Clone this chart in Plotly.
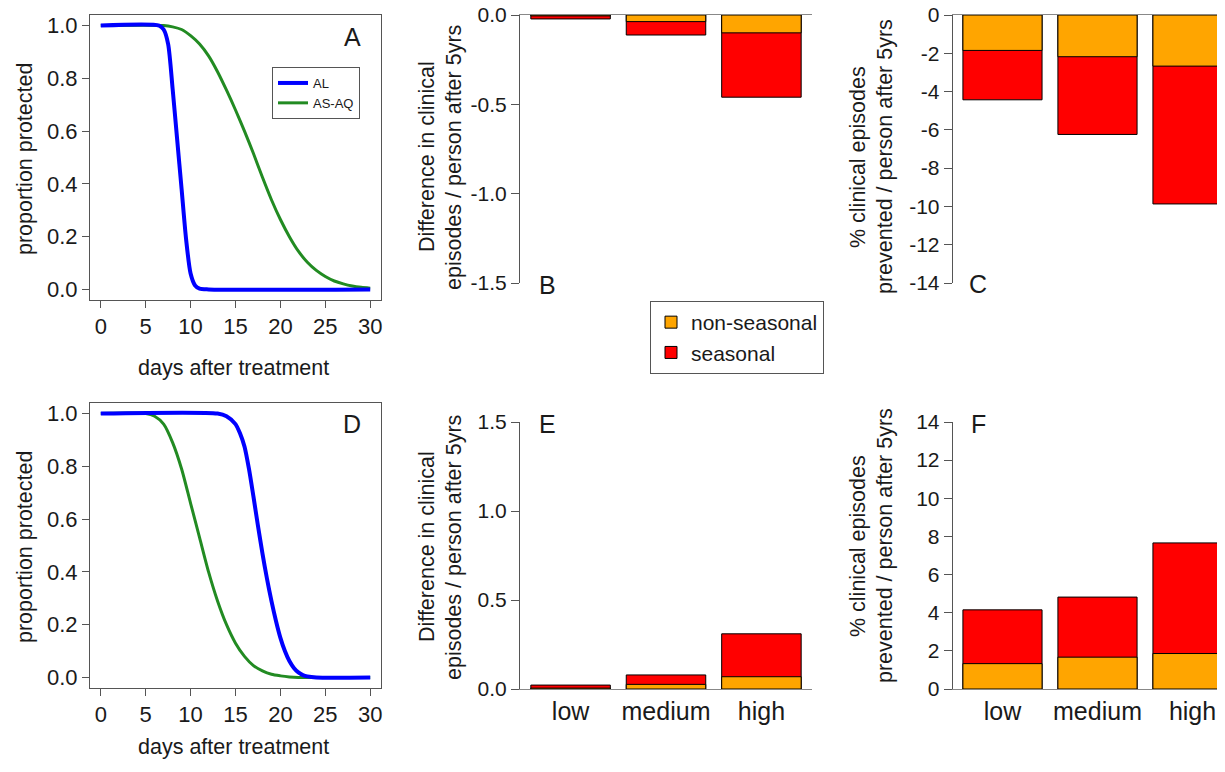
import plotly.graph_objects as go

# page offset (browser body margin) and figure size
OFF = 8
W, H = 1225 - OFF, 772 - OFF

# ---------------- data ----------------
days_AL_A = [0, 6.5, 7, 7.5, 8, 8.5, 9, 9.5, 10, 10.5, 11, 12, 30]
prot_AL_A = [1, 1, 0.985, 0.93, 0.76, 0.57, 0.38, 0.19, 0.06, 0.015, 0.003, 0, 0]
days_AQ_A = [0, 7, 8, 9, 10, 11, 12, 13, 14, 15, 16, 17, 18, 19, 20, 21, 22, 23, 24, 25, 26, 27, 28, 29, 30]
prot_AQ_A = [1, 1, 0.995, 0.985, 0.962, 0.93, 0.885, 0.825, 0.755, 0.68, 0.6, 0.515, 0.425, 0.34,
             0.265, 0.2, 0.145, 0.103, 0.072, 0.049, 0.032, 0.021, 0.013, 0.008, 0.005]

days_AL_D = [0, 13, 14, 15, 15.5, 16, 16.5, 17, 17.5, 18, 18.5, 19, 19.5, 20, 20.5, 21, 21.5, 22,
             22.5, 23, 24, 30]
prot_AL_D = [1, 1, 0.99, 0.96, 0.925, 0.875, 0.79, 0.685, 0.575, 0.47, 0.375, 0.29, 0.215, 0.15,
             0.1, 0.062, 0.036, 0.019, 0.009, 0.004, 0, 0]
days_AQ_D = [0, 5, 6, 7, 8, 9, 10, 11, 12, 13, 14, 15, 16, 17, 18, 19, 20, 21, 22, 30]
prot_AQ_D = [1, 1, 0.99, 0.96, 0.89, 0.79, 0.66, 0.53, 0.4, 0.29, 0.2, 0.13, 0.08, 0.045, 0.025,
             0.012, 0.006, 0.002, 0, 0]

transmission = ["low", "medium", "high"]
diff_B_nonseasonal = [-0.005, -0.037, -0.10]
diff_B_seasonal = [-0.022, -0.112, -0.46]
pct_C_nonseasonal = [-1.85, -2.18, -2.67]
pct_C_seasonal = [-4.43, -6.24, -9.87]
diff_E_nonseasonal = [0.005, 0.026, 0.069]
diff_E_seasonal = [0.022, 0.079, 0.31]
pct_F_nonseasonal = [1.33, 1.67, 1.86]
pct_F_seasonal = [4.15, 4.82, 7.66]

# ---------------- style ----------------
FONT = "Liberation Sans, Arial, sans-serif"
AXC = "#555555"
TXT = "#1a1a1a"
BLUE = "#0000FF"
GREEN = "#228B22"
ORANGE = "#FFA500"
RED = "#FF0000"


def px_x(p):
    return (p - OFF) / W


def px_y(p):
    return 1 - (p - OFF) / H


fig = go.Figure()

# line panels
for xa, ya, dAL, pAL, dAQ, pAQ, show in [
    ("x", "y", days_AL_A, prot_AL_A, days_AQ_A, prot_AQ_A, True),
    ("x4", "y4", days_AL_D, prot_AL_D, days_AQ_D, prot_AQ_D, False),
]:
    fig.add_trace(go.Scatter(x=dAQ, y=pAQ, mode="lines", name="AS-AQ", xaxis=xa, yaxis=ya,
                             line=dict(color=GREEN, width=3, shape="spline", smoothing=0.7),
                             showlegend=show, legend="legend", legendrank=2))
    fig.add_trace(go.Scatter(x=dAL, y=pAL, mode="lines", name="AL", xaxis=xa, yaxis=ya,
                             line=dict(color=BLUE, width=4, shape="spline", smoothing=0.7),
                             showlegend=show, legend="legend", legendrank=1))

# bar panels
for xa, ya, ns, s, show in [
    ("x2", "y2", diff_B_nonseasonal, diff_B_seasonal, True),
    ("x3", "y3", pct_C_nonseasonal, pct_C_seasonal, False),
    ("x5", "y5", diff_E_nonseasonal, diff_E_seasonal, False),
    ("x6", "y6", pct_F_nonseasonal, pct_F_seasonal, False),
]:
    fig.add_trace(go.Bar(x=transmission, y=s, name="seasonal", xaxis=xa, yaxis=ya, width=0.833,
                         marker=dict(color=RED, line=dict(color="black", width=1)),
                         showlegend=show, legend="legend2", legendrank=2))
    fig.add_trace(go.Bar(x=transmission, y=ns, name="non-seasonal", xaxis=xa, yaxis=ya, width=0.833,
                         marker=dict(color=ORANGE, line=dict(color="black", width=1)),
                         showlegend=show, legend="legend2", legendrank=1))

# ---------------- axes ----------------
line_x = dict(range=[-1.2, 31.2], tickvals=[0, 5, 10, 15, 20, 25, 30], showline=True, mirror=True,
              linecolor=AXC, linewidth=1, ticks="outside", ticklen=7, tickcolor=AXC,
              showgrid=False, zeroline=False, automargin=False, ticklabeloverflow="allow",
              tickfont=dict(size=22, color=TXT))
line_y = dict(range=[-0.04, 1.04], tickvals=[0, 0.2, 0.4, 0.6, 0.8, 1.0], tickformat=".1f",
              showline=True, mirror=True, linecolor=AXC, linewidth=1, ticks="outside", ticklen=7,
              tickcolor=AXC, showgrid=False, zeroline=False, automargin=False,
              ticklabeloverflow="allow", tickfont=dict(size=22, color=TXT))

fig.update_layout(
    xaxis=dict(domain=[px_x(90), px_x(381)], anchor="y", **line_x),
    yaxis=dict(domain=[px_y(300), px_y(15)], anchor="x", **line_y),
    xaxis4=dict(domain=[px_x(90), px_x(381)], anchor="y4", **line_x),
    yaxis4=dict(domain=[px_y(688), px_y(403)], anchor="x4", **line_y),
)


def bar_x(domain, rng, anchor, side, labels):
    return dict(domain=domain, range=rng, anchor=anchor, side=side, showline=True,
                linecolor="#888888", linewidth=1, ticks="", showgrid=False, zeroline=False,
                automargin=False, showticklabels=labels, ticklabeloverflow="allow",
                tickfont=dict(size=25, color=TXT),
                type="category", categoryorder="array", categoryarray=transmission)


def bar_y(domain, rng, anchor, tv, tt, fs):
    return dict(domain=domain, range=rng, anchor=anchor, tickvals=tv, ticktext=tt,
                showline=True, linecolor=AXC, linewidth=1, ticks="outside", ticklen=8,
                tickcolor=AXC, showgrid=False, zeroline=False, automargin=False,
                ticklabeloverflow="allow", tickfont=dict(size=fs, color=TXT))


top_dom = [px_y(283), px_y(15)]
bot_dom = [px_y(689), px_y(422)]
mid_dom = [px_x(520), px_x(812)]
right_dom = [px_x(952.7), 1.0]

fig.update_layout(
    xaxis2=bar_x(mid_dom, [-0.53, 2.53], "y2", "top", False),
    yaxis2=bar_y(top_dom, [-1.5, 0], "x2", [0, -0.5, -1.0, -1.5], ["0.0", "-0.5", "-1.0", "-1.5"], 21),
    xaxis3=bar_x(right_dom, [-0.524, 2.342], "y3", "top", False),
    yaxis3=bar_y(top_dom, [-14, 0], "x3", [0, -2, -4, -6, -8, -10, -12, -14],
                 ["0", "-2", "-4", "-6", "-8", "-10", "-12", "-14"], 21),
    xaxis5=bar_x(mid_dom, [-0.53, 2.53], "y5", "bottom", True),
    yaxis5=bar_y(bot_dom, [0, 1.5], "x5", [0, 0.5, 1.0, 1.5], ["0.0", "0.5", "1.0", "1.5"], 21),
    xaxis6=bar_x(right_dom, [-0.524, 2.342], "y6", "bottom", True),
    yaxis6=bar_y(bot_dom, [0, 14], "x6", [0, 2, 4, 6, 8, 10, 12, 14],
                 ["0", "2", "4", "6", "8", "10", "12", "14"], 21),
)

# ---------------- text ----------------
ann = []


def text(x, y, s, size, angle=0):
    ann.append(dict(x=px_x(x), y=px_y(y), xref="paper", yref="paper", text=s, showarrow=False,
                    xanchor="center", yanchor="middle", textangle=angle,
                    font=dict(size=size, color=TXT, family=FONT)))


# axis titles
text(234, 368, "days after treatment", 21.5)
text(234, 747, "days after treatment", 21.5)
text(25, 159, "proportion protected", 21.5, -90)
text(25, 547, "proportion protected", 21.5, -90)
text(427, 157, "Difference in clinical", 21.5, -90)
text(454, 157, "episodes / person after 5yrs", 21.5, -90)
text(427, 547, "Difference in clinical", 21.5, -90)
text(454, 547, "episodes / person after 5yrs", 21.5, -90)
text(858, 157, "% clinical episodes", 21.5, -90)
text(885, 157, "prevented / person after 5yrs", 21.5, -90)
text(858, 546, "% clinical episodes", 21.5, -90)
text(885, 546, "prevented / person after 5yrs", 21.5, -90)

# panel letters
for lx, ly, s in [(352, 37, "A"), (547, 285, "B"), (978, 284, "C"),
                  (352, 424, "D"), (547, 424, "E"), (978, 424, "F")]:
    text(lx, ly, s, 25)

fig.update_layout(
    annotations=ann,
    width=W, height=H,
    margin=dict(l=0, r=0, t=0, b=0, autoexpand=False),
    paper_bgcolor="white", plot_bgcolor="white",
    barmode="overlay",
    font=dict(family=FONT, color=TXT),
    legend=dict(x=px_x(272), y=px_y(67), xanchor="left", yanchor="top",
                bordercolor=AXC, borderwidth=1, bgcolor="white",
                font=dict(size=13), tracegroupgap=0, itemwidth=30,
                entrywidth=64, entrywidthmode="pixels"),
    legend2=dict(x=px_x(650), y=px_y(301), xanchor="left", yanchor="top",
                 bordercolor=AXC, borderwidth=1, bgcolor="white",
                 font=dict(size=21), tracegroupgap=0),
)

fig.write_html("out.html")
